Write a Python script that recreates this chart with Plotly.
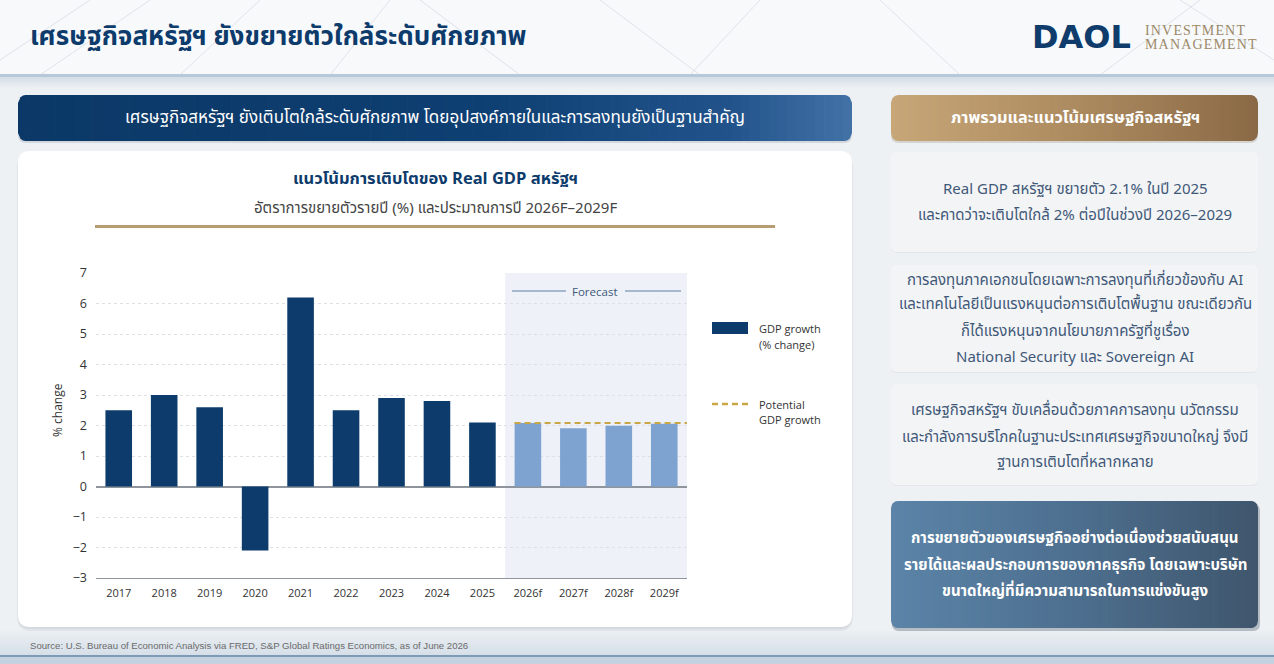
import math
import plotly.graph_objects as go

# ---------------- data ----------------
years_actual = ["2017", "2018", "2019", "2020", "2021", "2022", "2023", "2024", "2025"]
gdp_actual = [2.5, 3.0, 2.6, -2.1, 6.2, 2.5, 2.9, 2.8, 2.1]
years_forecast = ["2026f", "2027f", "2028f", "2029f"]
gdp_forecast = [2.08, 1.91, 1.99, 2.06]
potential_growth = 2.08
y_ticks = [-3, -2, -1, 0, 1, 2, 3, 4, 5, 6, 7]

page_title = "เศรษฐกิจสหรัฐฯ ยังขยายตัวใกล้ระดับศักยภาพ"
banner_left = "เศรษฐกิจสหรัฐฯ ยังเติบโตใกล้ระดับศักยภาพ โดยอุปสงค์ภายในและการลงทุนยังเป็นฐานสำคัญ"
banner_right = "ภาพรวมและแนวโน้มเศรษฐกิจสหรัฐฯ"
chart_title = "แนวโน้มการเติบโตของ Real GDP สหรัฐฯ"
chart_subtitle = "อัตราการขยายตัวรายปี (%) และประมาณการปี 2026F–2029F"
panel1 = ["Real GDP สหรัฐฯ ขยายตัว 2.1% ในปี 2025",
          "และคาดว่าจะเติบโตใกล้ 2% ต่อปีในช่วงปี 2026–2029"]
panel2 = ["การลงทุนภาคเอกชนโดยเฉพาะการลงทุนที่เกี่ยวข้องกับ AI",
          "และเทคโนโลยีเป็นแรงหนุนต่อการเติบโตพื้นฐาน ขณะเดียวกัน",
          "ก็ได้แรงหนุนจากนโยบายภาครัฐที่ชูเรื่อง",
          "National Security และ Sovereign AI"]
panel3 = ["เศรษฐกิจสหรัฐฯ ขับเคลื่อนด้วยภาคการลงทุน นวัตกรรม",
          "และกำลังการบริโภคในฐานะประเทศเศรษฐกิจขนาดใหญ่ จึงมี",
          "ฐานการเติบโตที่หลากหลาย"]
panel4 = ["การขยายตัวของเศรษฐกิจอย่างต่อเนื่องช่วยสนับสนุน",
          "รายได้และผลประกอบการของภาคธุรกิจ โดยเฉพาะบริษัท",
          "ขนาดใหญ่ที่มีความสามารถในการแข่งขันสูง"]
source_text = "Source: U.S. Bureau of Economic Analysis via FRED, S&P Global Ratings Economics, as of June 2026"

# ---------------- helpers ----------------
W, H = 1274, 664
THAI = "Noto Sans Thai, Kanit, Prompt, Noto Sans, sans-serif"
LAT = "Open Sans, Noto Sans, sans-serif"


def X(p):
    return p / W


def Y(p):
    return 1 - p / H


def pt(x, y):
    return f"{X(x):.5f},{Y(y):.5f}"


def rrect_path(x0, y0, x1, y1, r):
    return (f"M{pt(x0 + r, y0)} L{pt(x1 - r, y0)} Q{pt(x1, y0)} {pt(x1, y0 + r)} "
            f"L{pt(x1, y1 - r)} Q{pt(x1, y1)} {pt(x1 - r, y1)} L{pt(x0 + r, y1)} "
            f"Q{pt(x0, y1)} {pt(x0, y1 - r)} L{pt(x0, y0 + r)} Q{pt(x0, y0)} {pt(x0 + r, y0)} Z")


def hex2rgb(h):
    h = h.lstrip("#")
    return [int(h[i:i + 2], 16) for i in (0, 2, 4)]


def interp(stops, t):
    for i in range(len(stops) - 1):
        t0, c0 = stops[i]
        t1, c1 = stops[i + 1]
        if t0 <= t <= t1:
            f = (t - t0) / (t1 - t0) if t1 > t0 else 0
            a, b = hex2rgb(c0), hex2rgb(c1)
            c = [round(a[k] + (b[k] - a[k]) * f) for k in range(3)]
            return f"rgb({c[0]},{c[1]},{c[2]})"
    return stops[-1][1]


shapes = []


def add_rrect(x0, y0, x1, y1, r, fill, layer="below"):
    shapes.append(dict(type="path", xref="paper", yref="paper", path=rrect_path(x0, y0, x1, y1, r),
                       fillcolor=fill, line=dict(width=0), layer=layer))


def add_grad_rrect(x0, y0, x1, y1, r, stops, n=90):
    def inset(x):
        d = min(x - x0, x1 - x)
        if d >= r:
            return 0.0
        d = max(d, 0.0)
        return r - math.sqrt(max(r * r - (r - d) ** 2, 0.0))
    for i in range(n):
        sa = x0 + (x1 - x0) * i / n
        sb = min(x0 + (x1 - x0) * (i + 1) / n + 0.7, x1)
        xs = [sa + (sb - sa) * k / 4 for k in range(5)]
        top = [(x, y0 + inset(x)) for x in xs]
        bot = [(x, y1 - inset(x)) for x in reversed(xs)]
        pts = top + bot
        path = "M" + " L".join(pt(a, b) for a, b in pts) + " Z"
        t = ((sa + sb) / 2 - x0) / (x1 - x0)
        shapes.append(dict(type="path", xref="paper", yref="paper", path=path,
                           fillcolor=interp(stops, t), line=dict(width=0), layer="below"))


def add_rect(x0, y0, x1, y1, fill):
    shapes.append(dict(type="rect", xref="paper", yref="paper", x0=X(x0), x1=X(x1), y0=Y(y1), y1=Y(y0),
                       fillcolor=fill, line=dict(width=0), layer="below"))


def add_line(x0, y0, x1, y1, color, width=1, dash=None):
    ln = dict(color=color, width=width)
    if dash:
        ln["dash"] = dash
    shapes.append(dict(type="line", xref="paper", yref="paper", x0=X(x0), x1=X(x1), y0=Y(y0), y1=Y(y1),
                       line=ln, layer="below"))


annotations = []


def text(x, y, s, size, color, family=THAI, anchor="center", bold=False, **kw):
    if bold:
        s = f"<b>{s}</b>"
    annotations.append(dict(x=X(x), y=Y(y), xref="paper", yref="paper", text=s, showarrow=False,
                            xanchor=anchor, yanchor="middle",
                            font=dict(size=size, color=color, family=family), **kw))


# ---------------- page background ----------------
add_rect(0, 0, W, 75, "#f7f9fb")
# faint architectural lines in the header
for (a, b, c, d) in [(0, 60, 90, 0), (40, 75, 150, 0), (180, 75, 260, 0), (330, 75, 390, 0),
                     (600, 0, 700, 75), (760, 0, 690, 75), (880, 0, 960, 75), (1180, 0, 1274, 60),
                     (1100, 75, 1200, 0), (420, 0, 520, 75)]:
    add_line(a, b, c, d, "rgba(190,202,216,0.45)", 1)
for i in range(12):
    add_rect(0, 77 + i, W, 78 + i, interp([(0, "#d5dde6"), (1, "#eef1f4")], i / 11))
add_rect(0, 74, W, 77, "#b7c8d9")
for i in range(30):
    y0 = 628 + i
    add_rect(0, y0, W, y0 + 1.2, interp([(0, "#eef1f4"), (1, "#d3dde7")], i / 29))
add_rect(0, 655, W, 657, "#7d9ab7")
add_rect(0, 657, W, H, "#c4d2df")

# left banner
add_rrect(18, 97, 852, 143, 8, "rgba(10,30,60,0.12)")
add_grad_rrect(18, 95, 852, 141, 8, [(0, "#0b3866"), (0.55, "#0e3f72"), (0.85, "#21528a"), (1, "#4272a6")])
# chart card
add_rrect(17, 153, 853, 631, 14, "rgba(20,40,70,0.06)")
add_rrect(18, 152, 852, 629, 13, "rgba(20,40,70,0.06)")
add_rrect(18, 151, 852, 627, 12, "#ffffff")
# gold rule under the chart title
add_rect(95, 225, 775, 228, "#b89c72")

# right gold banner
add_rrect(891, 97, 1258, 143, 8, "rgba(60,40,10,0.15)")
add_grad_rrect(891, 95, 1258, 141, 8, [(0, "#c7a678"), (0.5, "#ad8b60"), (1, "#8a6946")])
# right panels
for (a, b) in [(152, 252), (265, 372), (384, 485)]:
    add_rrect(891, a + 1, 1258, b + 1, 6, "rgba(20,40,70,0.05)")
    add_rrect(891, a, 1258, b, 6, "#f3f4f6")
add_rrect(892, 504, 1260, 631, 7, "rgba(10,30,50,0.25)")
add_grad_rrect(891, 501, 1258, 628, 7, [(0, "#5b84a8"), (0.5, "#4d6f8f"), (1, "#3f566d")])

# ---------------- chart ----------------
categories = years_actual + years_forecast
n_act = len(years_actual)
bargap = 0.415

fig = go.Figure()
fig.add_trace(go.Bar(x=years_actual, y=gdp_actual, marker=dict(color="#0d3c6c", line=dict(width=0)),
                     name="GDP growth (% change)", showlegend=False))
fig.add_trace(go.Bar(x=years_forecast, y=gdp_forecast, marker=dict(color="#7fa3d1", line=dict(width=0)),
                     name="Forecast", showlegend=False))

# forecast shaded region
shapes.append(dict(type="rect", xref="x", yref="y", x0=n_act - 0.5, x1=len(categories) - 0.5,
                   y0=y_ticks[0], y1=y_ticks[-1], fillcolor="#eef2f8", line=dict(width=0), layer="below"))
# potential growth line
half = (1 - bargap) / 2
shapes.append(dict(type="line", xref="x", yref="y", x0=n_act - half, x1=len(categories) - 0.5,
                   y0=potential_growth, y1=potential_growth,
                   line=dict(color="#c9a646", width=2, dash="6px,4px"), layer="above"))

px0, px1 = 96, 687
py0, py1 = 273, 578
# Forecast label
text(595, 291, "Forecast", 11.5, "#3e5878", family=LAT)
shapes.append(dict(type="line", xref="paper", yref="paper", x0=X(512), x1=X(566), y0=Y(291), y1=Y(291),
                   line=dict(color="#5f7ea3", width=1)))
shapes.append(dict(type="line", xref="paper", yref="paper", x0=X(625), x1=X(681), y0=Y(291), y1=Y(291),
                   line=dict(color="#5f7ea3", width=1)))

# custom legend
shapes.append(dict(type="rect", xref="paper", yref="paper", x0=X(712), x1=X(748), y0=Y(334), y1=Y(322),
                   fillcolor="#0d3c6c", line=dict(width=0)))
text(757, 329, "GDP growth", 11, "#333333", family=LAT, anchor="left")
text(757, 344, "(% change)", 11, "#333333", family=LAT, anchor="left")
shapes.append(dict(type="line", xref="paper", yref="paper", x0=X(712), x1=X(748), y0=Y(404), y1=Y(404),
                   line=dict(color="#c9a646", width=2.5, dash="6px,4px")))
text(757, 404, "Potential", 11, "#333333", family=LAT, anchor="left")
text(757, 419, "GDP growth", 11, "#333333", family=LAT, anchor="left")

# y-axis title
annotations.append(dict(x=X(57), y=Y(410), xref="paper", yref="paper", text="% change", textangle=-90,
                        showarrow=False, xanchor="center", yanchor="middle",
                        font=dict(size=12, color="#333333", family=LAT)))

# ---------------- texts ----------------
HS = "\u200a"
text(28, 37, page_title, 26, "#0d3b6b", bold=True, anchor="left")
text(1030, 37, "DAOL", 32, "#0f3c6b", family="DejaVu Sans", bold=True, anchor="left")
text(1143, 30, HS.join("INVESTMENT"), 14, "#9d8968", family="Liberation Serif", anchor="left")
text(1143, 45, HS.join("MANAGEMENT"), 14, "#9d8968", family="Liberation Serif", anchor="left")

text(435, 118, banner_left, 17, "#ffffff")
text(435, 178, chart_title, 16.5, "#0d3b6b", bold=True)
text(435, 208, chart_subtitle, 15, "#444444")
text(1075, 118, banner_right, 16.3, "#ffffff", bold=True)

for s, y in zip(panel1, [189, 215]):
    text(1075, y, s, 15, "#3f5878")
for s, y in zip(panel2, [280, 305, 331, 357]):
    text(1075, y, s, 15, "#3f5878")
for s, y in zip(panel3, [410, 437, 462]):
    text(1075, y, s, 15, "#3f5878")
for s, y in zip(panel4, [538, 565, 591]):
    text(1075, y, s, 15, "#ffffff", bold=True)

text(28, 645, source_text, 9.6, "#6b6b6b", family="Liberation Sans", anchor="left")

fig.update_layout(
    width=W, height=H, autosize=False,
    margin=dict(l=0, r=0, t=0, b=0, pad=0, autoexpand=False),
    paper_bgcolor="#eef1f4", plot_bgcolor="rgba(0,0,0,0)",
    barmode="overlay", bargap=bargap,
    shapes=shapes, annotations=annotations,
    showlegend=False,
    xaxis=dict(domain=[X(px0), X(px1)], type="category", categoryorder="array", categoryarray=categories,
               range=[-0.5, len(categories) - 0.5], showgrid=False, showline=True, linecolor="#8f959c",
               linewidth=1, ticks="", ticklabelstandoff=5,
               tickfont=dict(size=11, color="#333333", family=LAT),
               automargin=False, fixedrange=True),
    yaxis=dict(domain=[Y(py1), Y(py0)], range=[y_ticks[0], y_ticks[-1]], tickvals=y_ticks,
               showgrid=True, gridcolor="#dde1e6", griddash="dot", gridwidth=1,
               zeroline=True, zerolinecolor="#8f959c", zerolinewidth=1.5,
               showline=False, ticks="", ticklabelstandoff=8, automargin=False,
               tickfont=dict(size=12.5, color="#333333", family=LAT), fixedrange=True),
)

fig.write_html("out.html", config=dict(displayModeBar=False),
               post_script="document.body.style.margin='0';document.body.style.overflow='hidden';")
